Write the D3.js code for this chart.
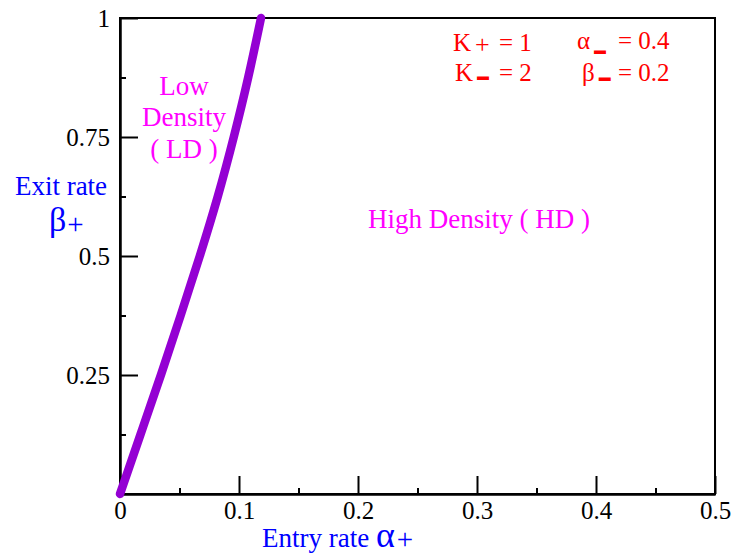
<!DOCTYPE html>
<html><head><meta charset="utf-8">
<script src="https://cdn.jsdelivr.net/npm/d3@7"></script>
<style>body{margin:0;background:#fff}svg{display:block}text{font-family:"Liberation Serif","Times New Roman",serif}</style>
</head><body>
<script>
// Data: phase boundary between LD and HD
const betaPlus  = [0, 0.125, 0.25, 0.375, 0.5, 0.625, 0.75, 0.875, 1];
const alphaPlus = [0, 0.0172, 0.0345, 0.051, 0.0672, 0.0825, 0.0958, 0.108, 0.1185];
const xTicks = [0, 0.1, 0.2, 0.3, 0.4, 0.5];
const xTickLabels = ["0", "0.1", "0.2", "0.3", "0.4", "0.5"];
const xMinor = [0.05, 0.15, 0.25, 0.35, 0.45];
const yTicks = [0.25, 0.5, 0.75, 1];
const yTickLabels = ["0.25", "0.5", "0.75", "1"];
const yMinor = [0.125, 0.375, 0.625, 0.875];

const W = 735, H = 558;
const m = {l: 120, r: 20, t: 18, b: 64};
const svg = d3.select("body").append("svg").attr("width", W).attr("height", H);
const x = d3.scaleLinear().domain([0, 0.5]).range([m.l, W - m.r]);
const y = d3.scaleLinear().domain([0, 1]).range([H - m.b, m.t]);

// frame
svg.append("rect").attr("x", x(0)).attr("y", y(1)).attr("width", x(0.5) - x(0)).attr("height", y(0) - y(1))
  .attr("fill", "none").attr("stroke", "#000").attr("stroke-width", 2);

const fs = 25;
const gx = svg.append("g").attr("transform", `translate(0,${y(0)})`)
  .call(d3.axisBottom(x).tickValues(xTicks).tickFormat((d, i) => xTickLabels[i]).tickSizeInner(-18).tickSizeOuter(0).tickPadding(7));
const gxm = svg.append("g").attr("transform", `translate(0,${y(0)})`)
  .call(d3.axisBottom(x).tickValues(xMinor).tickFormat("").tickSizeInner(-6).tickSizeOuter(0));
const gy = svg.append("g").attr("transform", `translate(${x(0)},0)`)
  .call(d3.axisLeft(y).tickValues(yTicks).tickFormat((d, i) => yTickLabels[i]).tickSizeInner(-18).tickSizeOuter(0).tickPadding(10));
const gym = svg.append("g").attr("transform", `translate(${x(0)},0)`)
  .call(d3.axisLeft(y).tickValues(yMinor).tickFormat("").tickSizeInner(-6).tickSizeOuter(0));
[gx, gxm, gy, gym].forEach(g => {
  g.select(".domain").attr("stroke", "#000").attr("stroke-width", 2);
  g.selectAll(".tick line").attr("stroke", "#000").attr("stroke-width", 2);
  g.selectAll(".tick text").attr("font-family", "Liberation Serif").attr("font-size", fs).attr("fill", "#000");
});

// boundary curve
const pts = betaPlus.map((b, i) => [alphaPlus[i], b]);
svg.append("path").datum(pts)
  .attr("d", d3.line().x(d => x(d[0])).y(d => y(d[1])).curve(d3.curveBasis))
  .attr("fill", "none").attr("stroke", "#9400d3").attr("stroke-width", 8.5)
  .attr("stroke-linecap", "round").attr("stroke-linejoin", "round");

// region labels
const mag = "#ff00ff";
const lf = 27;
[["Low", 95], ["Density", 126], ["( LD )", 158]].forEach(([t, yy]) =>
  svg.append("text").attr("x", 184).attr("y", yy).attr("text-anchor", "middle")
    .attr("font-size", lf).attr("fill", mag).text(t));
svg.append("text").attr("x", 479).attr("y", 228).attr("text-anchor", "middle")
  .attr("font-size", lf).attr("fill", mag).text("High Density ( HD )");

// axis titles
const blue = "#0000ff";
svg.append("text").attr("x", 61).attr("y", 195).attr("text-anchor", "middle")
  .attr("font-size", 27).attr("fill", blue).text("Exit rate");
const bt = svg.append("text").attr("x", 49).attr("y", 231).attr("font-size", 34).attr("fill", blue);
bt.append("tspan").text("β");
bt.append("tspan").attr("font-size", 29).attr("dx", 1).attr("dy", 3).text("+");

const et = svg.append("text").attr("x", 262).attr("y", 547).attr("font-size", 27).attr("fill", blue);
et.append("tspan").text("Entry rate ");
et.append("tspan").attr("font-size", 36).text("α");
et.append("tspan").attr("font-size", 29).attr("dx", 2).attr("dy", 2).text("+");

// parameters
const red = "#ff0000";
function param(xx, yy, main, sub, subDy, subSize, val, valX) {
  const t = svg.append("text").attr("x", xx).attr("y", yy).attr("font-size", 25).attr("fill", red);
  t.append("tspan").text(main);
  t.append("tspan").attr("font-size", subSize).attr("dx", 4).attr("dy", subDy).text(sub);
  svg.append("text").attr("x", valX).attr("y", yy).attr("font-size", 25).attr("fill", red).text(val);
}
param(453, 51, "K", "+", 2, 26, "= 1", 499);
param(455, 81, "K", "▬", -1, 12, "= 2", 499);
param(577, 49, "α", "▬", 5, 12, "= 0.4", 618);
param(582, 81, "β", "▬", 0, 12, "= 0.2", 618);
</script>
</body></html>
